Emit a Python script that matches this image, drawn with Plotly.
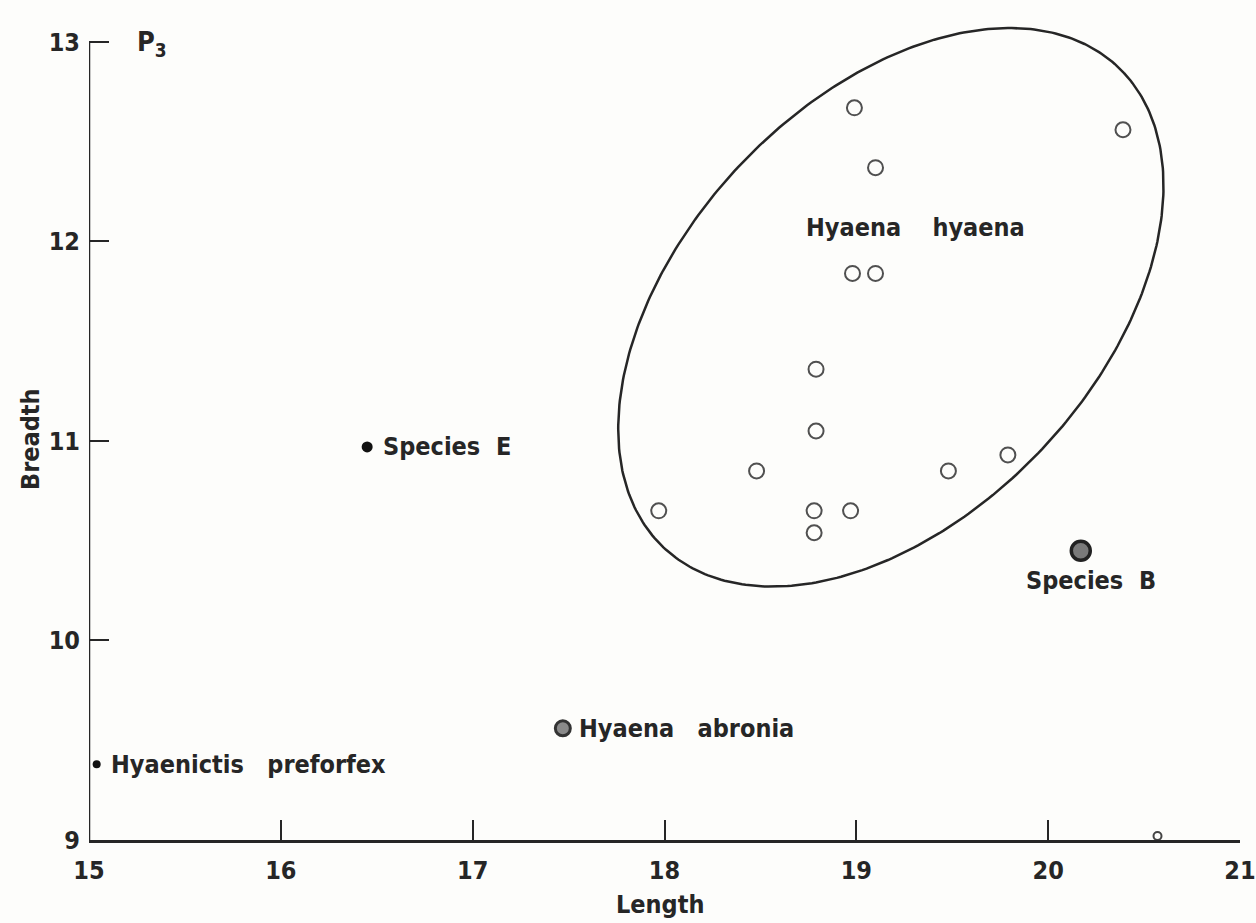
import numpy as np
import plotly.graph_objects as go

# ---- data ----
hyaena_len = [18.99, 20.39, 19.10, 18.98, 19.10, 18.79, 18.79, 18.48, 19.48, 19.79, 17.97, 18.78, 18.97, 18.78]
hyaena_bre = [12.67, 12.56, 12.37, 11.84, 11.84, 11.36, 11.05, 10.85, 10.85, 10.93, 10.65, 10.65, 10.65, 10.54]

species_e = (16.45, 10.97)
species_b = (20.17, 10.45)
abronia = (17.47, 9.56)
preforfex = (15.04, 9.38)
small_pt = (20.57, 9.02)

hyaena_label_pos = (19.31, 12.07)

x_ticks = [15, 16, 17, 18, 19, 20, 21]
y_ticks = [9, 10, 11, 12, 13]

# ellipse enclosing Hyaena hyaena (centre, semi-axes, angle in degrees)
ell_cx, ell_cy = 19.18, 11.67
ell_a, ell_b, ell_ang = 1.69, 1.06, 44.0

FONT = "DejaVu Sans Condensed, Liberation Sans Narrow, sans-serif"
INK = "#262626"

t = np.linspace(0, 2 * np.pi, 400)
th = np.deg2rad(ell_ang)
ex = ell_cx + ell_a * np.cos(t) * np.cos(th) - ell_b * np.sin(t) * np.sin(th)
ey = ell_cy + ell_a * np.cos(t) * np.sin(th) + ell_b * np.sin(t) * np.cos(th)

fig = go.Figure()
fig.add_trace(go.Scatter(x=ex, y=ey, mode="lines", line=dict(color=INK, width=2.5), hoverinfo="skip"))
fig.add_trace(go.Scatter(x=hyaena_len, y=hyaena_bre, mode="markers",
                         marker=dict(symbol="circle-open", size=15, color="#505050", line=dict(width=2))))
fig.add_trace(go.Scatter(x=[species_e[0]], y=[species_e[1]], mode="markers",
                         marker=dict(size=11, color="#111111")))
fig.add_trace(go.Scatter(x=[preforfex[0]], y=[preforfex[1]], mode="markers",
                         marker=dict(size=8, color="#111111")))
fig.add_trace(go.Scatter(x=[abronia[0]], y=[abronia[1]], mode="markers",
                         marker=dict(size=15, color="#8a8a8a", line=dict(color="#333333", width=3))))
fig.add_trace(go.Scatter(x=[species_b[0]], y=[species_b[1]], mode="markers",
                         marker=dict(size=19, color="#7a7a7a", line=dict(color="#222222", width=3.5))))
fig.add_trace(go.Scatter(x=[small_pt[0]], y=[small_pt[1]], mode="markers", cliponaxis=False,
                         marker=dict(symbol="circle-open", size=8, color="#444444", line=dict(width=2))))

lab_font = dict(family=FONT, size=25, color=INK, weight="bold")
NB = "\u00a0"
fig.add_annotation(x=species_e[0], y=species_e[1], text="Species" + NB * 2 + "E", showarrow=False,
                   xanchor="left", yanchor="middle", xshift=14, font=lab_font)
fig.add_annotation(x=abronia[0], y=abronia[1], text="Hyaena" + NB * 3 + "abronia", showarrow=False,
                   xanchor="left", yanchor="middle", xshift=14, font=lab_font)
fig.add_annotation(x=preforfex[0], y=preforfex[1], text="Hyaenictis" + NB * 3 + "preforfex", showarrow=False,
                   xanchor="left", yanchor="middle", xshift=12, font=lab_font)
fig.add_annotation(x=species_b[0], y=species_b[1], text="Species" + NB * 2 + "B", showarrow=False,
                   xanchor="center", yanchor="middle", xshift=10, yshift=-30, font=lab_font)
fig.add_annotation(x=hyaena_label_pos[0], y=hyaena_label_pos[1], text="Hyaena" + NB * 4 + "hyaena",
                   showarrow=False, xanchor="center", yanchor="middle", font=lab_font)
fig.add_annotation(x=15, y=13, xref="x", yref="y", text="P<sub>3</sub>", showarrow=False,
                   xanchor="left", yanchor="middle", xshift=46, yshift=-2,
                   font=dict(family=FONT, size=27, color=INK, weight="bold"))
fig.add_annotation(x=0.5, y=0, xref="paper", yref="paper", text="Length", showarrow=False,
                   xanchor="center", yanchor="middle", xshift=-5, yshift=-64, font=lab_font)
fig.add_annotation(x=0, y=0.5, xref="paper", yref="paper", text="Breadth", showarrow=False, textangle=-90,
                   xanchor="center", yanchor="middle", xshift=-59, yshift=-8, font=lab_font)

# y-axis line from 9 to 13
fig.add_shape(type="line", x0=x_ticks[0], x1=x_ticks[0], y0=y_ticks[0], y1=y_ticks[-1],
              xref="x", yref="y", line=dict(color=INK, width=2.5))

fig.update_layout(
    width=1256, height=923,
    paper_bgcolor="#fdfdfb", plot_bgcolor="#fdfdfb",
    showlegend=False,
    margin=dict(l=89, r=16, t=22, b=83, autoexpand=False),
    xaxis=dict(range=[15, 21], tickvals=x_ticks, ticktext=[str(v) for v in x_ticks],
               showgrid=False, zeroline=False, showline=True, linecolor=INK, linewidth=2.5,
               ticks="inside", ticklen=20, tickwidth=2, tickcolor=INK, ticklabelstandoff=6,
               ticklabeloverflow="allow", automargin=False,
               tickfont=dict(family=FONT, size=25, color=INK, weight="bold")),
    yaxis=dict(range=[9, 13.1], tickvals=y_ticks, ticktext=[str(v) for v in y_ticks],
               showgrid=False, zeroline=False, showline=False, automargin=False,
               ticks="inside", ticklen=20, tickwidth=2, tickcolor=INK, ticklabelstandoff=8,
               tickfont=dict(family=FONT, size=25, color=INK, weight="bold")),
)

fig.write_html("out.html", config={"displayModeBar": False},
               post_script="document.body.style.margin='0';document.body.style.overflow='hidden';")
